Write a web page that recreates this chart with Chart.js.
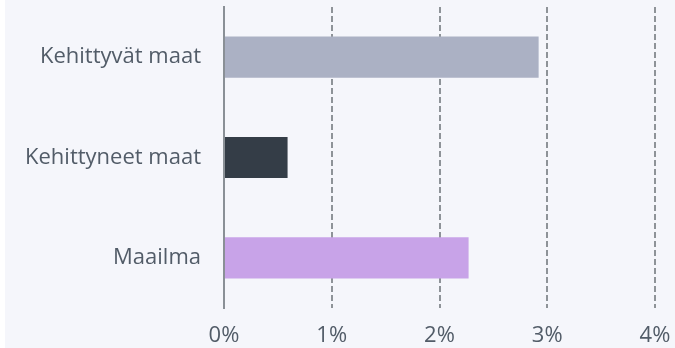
<!DOCTYPE html>
<html>
<head>
<meta charset="utf-8">
<script src="https://cdn.jsdelivr.net/npm/chart.js@4.4.1/dist/chart.umd.min.js"></script>
<style>
    html, body { margin: 0; padding: 0; background: #ffffff; }
    #wrap { width: 675px; height: 348px; }
</style>
</head>
<body>
<div id="wrap"><canvas id="growthChart" width="675" height="348"></canvas></div>
<script>
// 数据
const categories = ['Kehittyvät maat', 'Kehittyneet maat', 'Maailma'];
const growthValues = [2.92, 0.59, 2.27];
const barColors = ['#abb1c4', '#343d47', '#c8a3e8'];
const xTicks = [0, 1, 2, 3, 4];

// 背景面板
const panelBackground = {
    id: 'panelBackground',
    beforeDraw(chart) {
        const ctx = chart.ctx;
        ctx.save();
        ctx.fillStyle = '#ffffff';
        ctx.fillRect(0, 0, chart.width, chart.height);
        ctx.fillStyle = '#f5f6fb';
        ctx.fillRect(5, 0, chart.width - 5, chart.height);
        ctx.restore();
    }
};

const labelFont = { family: '"Open Sans", sans-serif', size: 22 };
const textColor = '#525c68';

new Chart(document.getElementById('growthChart').getContext('2d'), {
    type: 'bar',
    data: {
        labels: categories,
        datasets: [{
            data: growthValues,
            backgroundColor: barColors,
            borderWidth: 0,
            barPercentage: 0.41,
            categoryPercentage: 1
        }]
    },
    options: {
        indexAxis: 'y',
        responsive: false,
        animation: false,
        layout: {
            padding: { left: 0, top: 7, right: 20, bottom: 0 }
        },
        plugins: {
            legend: { display: false },
            tooltip: { enabled: false }
        },
        scales: {
            x: {
                min: 0,
                max: 4,
                afterBuildTicks(scale) {
                    scale.ticks = xTicks.map(v => ({ value: v }));
                },
                afterFit(scale) {
                    scale.height = 40;
                    scale.paddingLeft = 0;
                    scale.paddingRight = 0;
                },
                grid: {
                    drawTicks: false,
                    lineWidth: 2,
                    color: ctx => ctx.tick && ctx.tick.value === 0 ? 'rgba(0,0,0,0)' : '#8e9398'
                },
                border: {
                    display: false,
                    dash: [6, 3]
                },
                ticks: {
                    padding: 15,
                    color: textColor,
                    font: labelFont,
                    callback: v => v + '%'
                }
            },
            y: {
                afterFit(scale) {
                    scale.width = 224;
                    scale.paddingTop = 0;
                    scale.paddingBottom = 0;
                },
                grid: {
                    display: false,
                    drawTicks: false
                },
                border: {
                    display: true,
                    color: '#8a9096',
                    width: 2
                },
                ticks: {
                    padding: 23,
                    color: textColor,
                    font: labelFont
                }
            }
        }
    },
    plugins: [panelBackground]
});
</script>
</body>
</html>
